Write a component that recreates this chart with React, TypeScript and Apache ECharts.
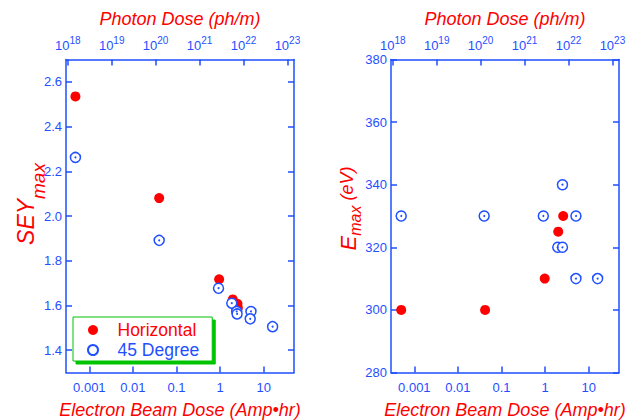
import React, { useEffect, useRef } from "react";
import * as echarts from "echarts";

// ---- data ----
const electronTicks = [0.001, 0.01, 0.1, 1, 10];
const photonTicks = [1e18, 1e19, 1e20, 1e21, 1e22, 1e23];
const seyTicks = [1.4, 1.6, 1.8, 2.0, 2.2, 2.4, 2.6];
const emaxTicks = [280, 300, 320, 340, 360, 380];

const seyHorizDose = [0.00048, 0.04, 0.95, 1.95, 2.5, 2.55];
const seyHorizVal = [2.535, 2.08, 1.717, 1.627, 1.607, 1.59];
const seyDiagDose = [0.00048, 0.04, 0.92, 1.85, 2.4, 2.45, 5.1, 4.9, 16];
const seyDiagVal = [2.262, 1.891, 1.677, 1.61, 1.573, 1.562, 1.573, 1.54, 1.505];

const emaxHorizDose = [0.0005, 0.042, 0.98, 2.0, 2.6];
const emaxHorizVal = [300, 300, 310, 325, 330];
const emaxDiagDose = [0.0005, 0.04, 0.91, 2.5, 5.1, 1.95, 2.5, 5.1, 16];
const emaxDiagVal = [330, 330, 330, 340, 330, 320, 320, 310, 310];

const BLUE = "#1f4fff";
const RED = "#ff0000";
const GREEN = "#00c400";
const FONT = "Liberation Sans";

const zip = (xs: number[], ys: number[]) => xs.map((x, i) => [x, ys[i]]);

const E_MIN = Math.pow(10, -3.535);
const E_MAX = Math.pow(10, 1.695);
const P_MIN = Math.pow(10, 17.96);
const P_MAX = Math.pow(10, 23.15);

const tick = { show: true, inside: true, length: 6, lineStyle: { color: BLUE, width: 1.5 } };
const line = { show: true, lineStyle: { color: BLUE, width: 1.5 } };

function bottomAxis(grid: number) {
  return {
    type: "log",
    gridIndex: grid,
    position: "bottom",
    min: E_MIN,
    max: E_MAX,
    axisLine: line,
    axisTick: { ...tick, customValues: electronTicks },
    axisLabel: {
      customValues: electronTicks,
      margin: 8,
      color: BLUE,
      fontSize: 13,
      fontFamily: FONT,
      formatter: (v: number) => String(v),
    },
    splitLine: { show: false },
    minorTick: { show: false },
    name: "Electron Beam Dose (Amp\u2022hr)",
    nameLocation: "middle",
    nameGap: 28,
    nameMoveOverlap: false,
    nameTextStyle: { color: RED, fontSize: 18, fontStyle: "italic", fontFamily: FONT },
  };
}

function topAxis(grid: number) {
  return {
    type: "log",
    gridIndex: grid,
    position: "top",
    min: P_MIN,
    max: P_MAX,
    axisLine: line,
    axisTick: { ...tick, customValues: photonTicks },
    axisLabel: {
      customValues: photonTicks,
      margin: 4.5,
      color: BLUE,
      fontSize: 13,
      fontFamily: FONT,
      formatter: (v: number) => "10{sup|" + Math.round(Math.log10(v)) + "}",
      rich: {
        sup: { fontSize: 10, color: BLUE, fontFamily: FONT, padding: [0, 0, 10, 0] },
      },
    },
    splitLine: { show: false },
    minorTick: { show: false },
    name: "Photon Dose (ph/m)",
    nameLocation: "middle",
    nameGap: 32,
    nameMoveOverlap: false,
    nameTextStyle: { color: RED, fontSize: 18, fontStyle: "italic", fontFamily: FONT },
  };
}

export default function App() {
  const ref = useRef<HTMLDivElement>(null);
  useEffect(() => {
    if (!ref.current) return;
    const chart = echarts.init(ref.current, undefined, { renderer: "svg" });
    const option: any = {
      animation: false,
      backgroundColor: "#fff",
      grid: [
        { left: 66, top: 59.5, width: 228, height: 313, containLabel: false, outerBoundsMode: "none" },
        { left: 391, top: 59.5, width: 228, height: 313, containLabel: false, outerBoundsMode: "none" },
      ],
      xAxis: [bottomAxis(0), topAxis(0), bottomAxis(1), topAxis(1)],
      yAxis: [
        {
          type: "value",
          gridIndex: 0,
          position: "left",
          min: 1.3,
          max: 2.7,
          axisLine: line,
          axisTick: { ...tick, customValues: seyTicks },
          axisLabel: {
            customValues: seyTicks,
            margin: 4,
            color: BLUE,
            fontSize: 13,
            fontFamily: FONT,
            formatter: (v: number) => v.toFixed(1),
          },
          splitLine: { show: false },
          name: "{a|SEY}{b|max}",
          nameLocation: "middle",
          nameGap: 28,
          nameMoveOverlap: false,
          nameTextStyle: {
            padding: [0, 0, 0, 24],
            rich: {
              a: { fontSize: 23, fontStyle: "italic", color: RED, fontFamily: FONT, verticalAlign: "top", lineHeight: 24 },
              b: { fontSize: 19, fontStyle: "italic", color: RED, fontFamily: FONT, verticalAlign: "top", lineHeight: 19, padding: [15, 0, 0, 0] },
            },
          },
        },
        {
          type: "value",
          gridIndex: 0,
          position: "right",
          min: 1.3,
          max: 2.7,
          axisLine: line,
          axisTick: { ...tick, customValues: seyTicks },
          axisLabel: { show: false },
          splitLine: { show: false },
        },
        {
          type: "value",
          gridIndex: 1,
          position: "left",
          min: 280,
          max: 380,
          interval: 20,
          axisLine: line,
          axisTick: { ...tick, customValues: emaxTicks },
          axisLabel: { customValues: emaxTicks, margin: 4, color: BLUE, fontSize: 13, fontFamily: FONT },
          splitLine: { show: false },
          name: "{a|E}{b|max}{c| (eV)}",
          nameLocation: "middle",
          nameGap: 30,
          nameMoveOverlap: false,
          nameTextStyle: {
            padding: [0, 0, 0, 15],
            rich: {
              a: { fontSize: 22, fontStyle: "italic", color: RED, fontFamily: FONT, verticalAlign: "top", lineHeight: 24 },
              b: { fontSize: 16, fontStyle: "italic", color: RED, fontFamily: FONT, verticalAlign: "top", lineHeight: 16, padding: [10, 0, 0, 0] },
              c: { fontSize: 18, fontStyle: "italic", color: RED, fontFamily: FONT, verticalAlign: "top", lineHeight: 24, padding: [1, 0, 0, 0] },
            },
          },
        },
        {
          type: "value",
          gridIndex: 1,
          position: "right",
          min: 280,
          max: 380,
          interval: 20,
          axisLine: line,
          axisTick: { ...tick, customValues: emaxTicks },
          axisLabel: { show: false },
          splitLine: { show: false },
        },
      ],
      legend: {
        left: 73,
        top: 317,
        orient: "vertical",
        selectedMode: false,
        data: [
          { name: "Horizontal", textStyle: { color: RED } },
          { name: "45 Degree", textStyle: { color: BLUE } },
        ],
        itemWidth: 25,
        itemHeight: 10,
        itemGap: 0,
        padding: [3, 13, 1, 14],
        backgroundColor: "#fff",
        borderColor: GREEN,
        borderWidth: 1,
        borderRadius: 0,
        shadowColor: GREEN,
        shadowBlur: 0,
        shadowOffsetX: 3,
        shadowOffsetY: 3,
        textStyle: { fontSize: 17.5, fontFamily: FONT, lineHeight: 20, padding: [0, 0, 0, 7] },
      },
      series: [
        {
          name: "Horizontal",
          type: "scatter",
          xAxisIndex: 0,
          yAxisIndex: 0,
          symbol: "circle",
          symbolSize: 10,
          itemStyle: { color: RED, opacity: 1 },
          data: zip(seyHorizDose, seyHorizVal),
        },
        {
          name: "45 Degree",
          type: "scatter",
          xAxisIndex: 0,
          yAxisIndex: 0,
          symbol: "circle",
          symbolSize: 10,
          itemStyle: { color: "#fff", borderColor: BLUE, borderWidth: 1.5, opacity: 1 },
          data: zip(seyDiagDose, seyDiagVal),
        },
        {
          name: "dot",
          type: "scatter",
          xAxisIndex: 0,
          yAxisIndex: 0,
          symbol: "circle",
          symbolSize: 2,
          silent: true,
          itemStyle: { color: BLUE, opacity: 1 },
          data: zip(seyDiagDose, seyDiagVal),
        },
        {
          name: "Horizontal",
          type: "scatter",
          xAxisIndex: 2,
          yAxisIndex: 2,
          symbol: "circle",
          symbolSize: 10,
          itemStyle: { color: RED, opacity: 1 },
          data: zip(emaxHorizDose, emaxHorizVal),
        },
        {
          name: "45 Degree",
          type: "scatter",
          xAxisIndex: 2,
          yAxisIndex: 2,
          symbol: "circle",
          symbolSize: 10,
          itemStyle: { color: "#fff", borderColor: BLUE, borderWidth: 1.5, opacity: 1 },
          data: zip(emaxDiagDose, emaxDiagVal),
        },
        {
          name: "dot",
          type: "scatter",
          xAxisIndex: 2,
          yAxisIndex: 2,
          symbol: "circle",
          symbolSize: 2,
          silent: true,
          itemStyle: { color: BLUE, opacity: 1 },
          data: zip(emaxDiagDose, emaxDiagVal),
        },
      ],
    };
    chart.setOption(option);
    return () => chart.dispose();
  }, []);
  return (
    <div
      ref={ref}
      style={{ position: "absolute", left: 0, top: 0, width: 635, height: 420 }}
    />
  );
}
